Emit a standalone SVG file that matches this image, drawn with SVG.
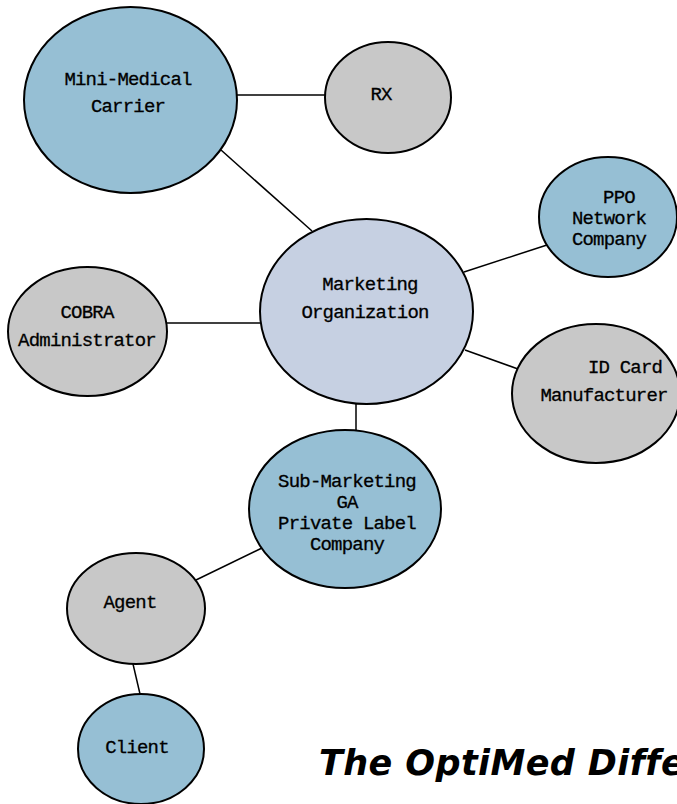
<svg xmlns="http://www.w3.org/2000/svg" width="677" height="804" viewBox="0 0 677 804">
<style>
.n{stroke:#000;stroke-width:2}
.blue{fill:#96bfd4}
.gray{fill:#c8c8c8}
.center{fill:#c6d0e2}
.e{stroke:#000;stroke-width:1.5;fill:none}
text{font-family:"Liberation Mono","DejaVu Sans Mono",monospace;font-size:19px;letter-spacing:-0.8px;fill:#000;stroke:#000;stroke-width:0.3;text-anchor:middle}
.title{font-family:"DejaVu Sans","Verdana",sans-serif;font-size:35px;letter-spacing:0.4px;stroke:none;font-weight:bold;font-style:italic;text-anchor:start}
</style>
<rect width="677" height="804" fill="#fff"/>
<g id="connectors">
<line class="e" x1="237" y1="95" x2="325" y2="95"/>
<line class="e" x1="221" y1="150" x2="312" y2="231"/>
<line class="e" x1="464" y1="272" x2="547" y2="245"/>
<line class="e" x1="167" y1="323" x2="260" y2="323"/>
<line class="e" x1="465" y1="350" x2="518" y2="369"/>
<line class="e" x1="356" y1="404" x2="356" y2="431"/>
<line class="e" x1="262" y1="548" x2="196" y2="580"/>
<line class="e" x1="133" y1="664" x2="140" y2="694"/>
</g>
<g id="mini-medical">
<ellipse class="n blue" cx="130.5" cy="100" rx="106.5" ry="93"/>
<text x="128" y="85">Mini-Medical</text>
<text x="128" y="112">Carrier</text>
</g>
<g id="rx">
<ellipse class="n gray" cx="388" cy="97.5" rx="63" ry="55.5"/>
<text x="381" y="100">RX</text>
</g>
<g id="ppo">
<ellipse class="n blue" cx="608" cy="217" rx="69" ry="60"/>
<text x="619" y="203">PPO</text>
<text x="609" y="224">Network</text>
<text x="609" y="245">Company</text>
</g>
<g id="marketing">
<ellipse class="n center" cx="366.5" cy="311.5" rx="106.5" ry="92.5"/>
<text x="370" y="290">Marketing</text>
<text x="365" y="318">Organization</text>
</g>
<g id="cobra">
<ellipse class="n gray" cx="87.5" cy="331.5" rx="79.5" ry="64.5"/>
<text x="87" y="318">COBRA</text>
<text x="87" y="346">Administrator</text>
</g>
<g id="idcard">
<ellipse class="n gray" cx="596" cy="393.5" rx="84" ry="69.5"/>
<text x="625" y="373">ID Card</text>
<text x="604" y="401">Manufacturer</text>
</g>
<g id="submarketing">
<ellipse class="n blue" cx="345" cy="509" rx="96" ry="79"/>
<text x="347" y="487">Sub-Marketing</text>
<text x="347" y="508">GA</text>
<text x="347" y="529">Private Label</text>
<text x="347" y="550">Company</text>
</g>
<g id="agent">
<ellipse class="n gray" cx="136" cy="608.5" rx="69" ry="55.5"/>
<text x="130" y="608">Agent</text>
</g>
<g id="client">
<ellipse class="n blue" cx="141" cy="749" rx="63" ry="55"/>
<text x="137" y="753">Client</text>
</g>
<text class="title" x="319" y="775">The OptiMed Difference</text>
</svg>
